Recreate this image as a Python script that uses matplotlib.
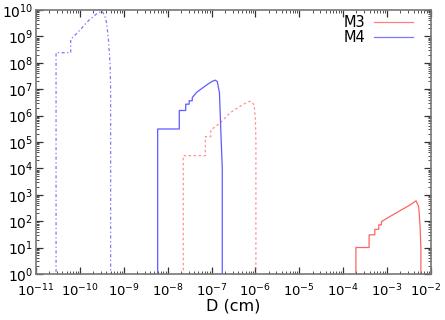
import numpy as np
import matplotlib
matplotlib.use("Agg")
import matplotlib.pyplot as plt
from matplotlib.ticker import FixedLocator, LogLocator, NullFormatter
from matplotlib.transforms import ScaledTranslation

plt.rcParams['font.family'] = ['DejaVu Sans']
plt.rcParams['mathtext.default'] = 'regular'

# log10 of D (cm) and log10 of N
# M4, dash-dot variant
m4b_logd = [-10.544, -10.544, -10.21, -10.21, -10.09, -9.98, -9.92, -9.85, -9.77,
            -9.69, -9.62, -9.54, -9.50, -9.44, -9.39, -9.35, -9.31, -9.30, -9.30]
m4b_logn = [-1, 8.38, 8.38, 8.89, 9.08, 9.27, 9.39, 9.52, 9.65,
            9.75, 9.85, 9.92, 9.96, 9.81, 9.50, 8.86, 7.85, 7.0, -1]
# M4, solid
m4_logd = [-8.228, -8.228, -7.736, -7.736, -7.59, -7.59, -7.51, -7.51, -7.44, -7.44,
           -7.34, -7.11, -6.99, -6.92, -6.87, -6.82, -6.79, -6.756, -6.756]
m4_logn = [-1, 5.49, 5.49, 6.19, 6.19, 6.43, 6.43, 6.56, 6.56, 6.68,
           6.88, 7.16, 7.29, 7.34, 7.29, 6.86, 5.45, 4.0, -1]
# M3, dashed variant
m3b_logd = [-7.645, -7.645, -7.143, -7.143, -7.02, -7.02, -6.81, -6.58, -6.36,
            -6.17, -6.10, -6.03, -6.00, -5.99, -5.99]
m3b_logn = [-1, 4.48, 4.48, 5.20, 5.20, 5.45, 5.71, 6.10, 6.34,
            6.52, 6.54, 6.40, 5.83, 5.0, -1]
# M3, solid
m3_logd = [-3.711, -3.711, -3.41, -3.41, -3.28, -3.28, -3.19, -3.19, -3.13, -3.13,
           -2.94, -2.71, -2.48, -2.34, -2.28, -2.25, -2.23, -2.23]
m3_logn = [-1, 1.00, 1.00, 1.48, 1.48, 1.69, 1.69, 1.86, 1.86, 1.98,
           2.17, 2.39, 2.61, 2.77, 2.55, 1.86, 1.0, -1]

fig = plt.figure(figsize=(4.45, 3.2), dpi=100)
ax = fig.add_axes([0.081, 0.144, 0.8875, 0.825])

blue = '#4040ff'
red = '#ff4848'

ax.plot(10 ** np.array(m4b_logd), 10 ** np.array(m4b_logn), color=blue, lw=0.9,
        ls=(0, (2.5, 2, 1, 2)), alpha=0.7)
ax.plot(10 ** np.array(m4_logd), 10 ** np.array(m4_logn), color=blue, lw=0.9, alpha=0.85)
ax.plot(10 ** np.array(m3b_logd), 10 ** np.array(m3b_logn), color=red, lw=0.9,
        ls=(0, (2, 2)), alpha=0.6)
ax.plot(10 ** np.array(m3_logd), 10 ** np.array(m3_logn), color=red, lw=0.9, alpha=0.85)

# legend handles only
ax.plot([], [], color=red, lw=0.9, alpha=0.7, label='M3')
ax.plot([], [], color=blue, lw=0.9, alpha=0.7, label='M4')

ax.set_xscale('log')
ax.set_yscale('log')
ax.set_xlim(1e-11, 1e-2)
ax.set_ylim(1e0, 1e10)

ax.xaxis.set_major_locator(FixedLocator(10.0 ** np.arange(-11, -1)))
ax.yaxis.set_major_locator(FixedLocator(10.0 ** np.arange(0, 11)))
ax.xaxis.set_minor_locator(LogLocator(base=10, subs=np.arange(2, 10), numticks=100))
ax.yaxis.set_minor_locator(LogLocator(base=10, subs=np.arange(2, 10), numticks=100))
ax.xaxis.set_minor_formatter(NullFormatter())
ax.yaxis.set_minor_formatter(NullFormatter())

ax.tick_params(which='both', direction='in', top=True, right=True, labelsize=10,
               color='#333333')
ax.tick_params(axis='x', labelsize=9.5)
ax.tick_params(which='major', length=5, width=0.9)
ax.tick_params(which='minor', length=2.5, width=0.6)
ax.tick_params(axis='x', pad=6)
ax.tick_params(axis='y', pad=2)
for s in ax.spines.values():
    s.set_color('#777777')
    s.set_linewidth(1.2)

ax.set_xlabel('D (cm)', fontsize=11.5, labelpad=0)

ax.legend(loc='upper right', frameon=False, markerfirst=False, fontsize=10.5,
          handlelength=2.7, handletextpad=0.6, labelspacing=0.0, borderpad=0.2,
          borderaxespad=0, bbox_to_anchor=(0.962, 0.99))

# nudge the last x label so it stays inside the picture
fig.canvas.draw()
last = ax.xaxis.get_major_ticks()[-1].label1
last.set_transform(last.get_transform() + ScaledTranslation(-0.05, 0, fig.dpi_scale_trans))

fig.savefig('out.png', dpi=100)
